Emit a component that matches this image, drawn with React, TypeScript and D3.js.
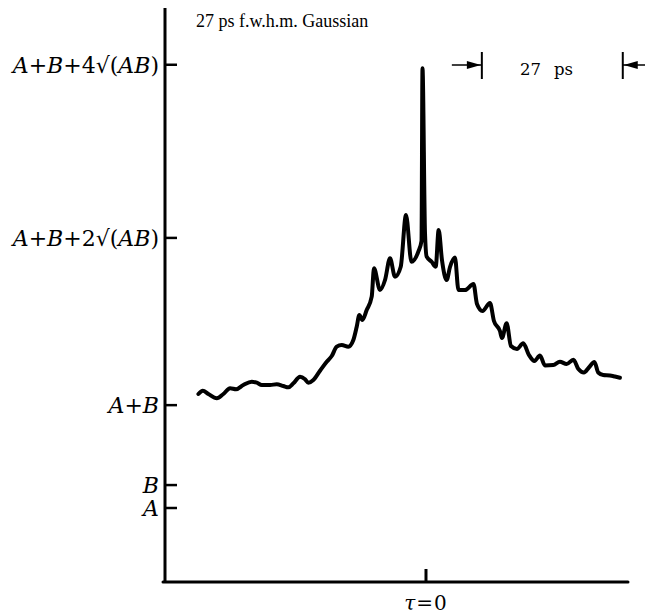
import React from "react";
import * as d3 from "d3";

// Delay tau in picoseconds
const TAU_PS: number[] = [
  -43.6, -42.76, -41.69, -40.08, -38.82, -37.53, -36.38, -34.99, -33.38, -32.42,
  -31.46, -29.87, -28.59, -27.33, -26.37, -25.41, -24.13, -23.17, -22.54, -21.58,
  -20.3, -19.02, -18.06, -17.1, -16.14, -14.88, -13.92, -13.27, -12.77, -12.2,
  -11.36, -10.4, -9.96, -8.81, -7.85, -6.89, -5.94, -4.84, -3.83, -2.78,
  -1.47, -0.86, -0.67, -0.19, 0.13, 1.09, 1.86, 2.43, 3.06, 3.96,
  4.6, 5.55, 6.22, 7.47, 9.1, 9.77, 10.82, 12.26, 13.02, 14.17,
  14.55, 15.45, 16.28, 17.43, 18.63, 19.72, 20.78, 21.83, 22.79, 24.38,
  25.66, 26.94, 28.24, 29.2, 30.26, 31.21, 32.27, 32.99, 33.95, 35.23,
  36.19, 37.15,
];

// Correlation signal (arbitrary units, A = 1)
const SIGNAL: number[] = [
  2.541, 2.585, 2.541, 2.482, 2.541, 2.618, 2.604, 2.662, 2.707, 2.693,
  2.662, 2.662, 2.672, 2.649, 2.631, 2.685, 2.774, 2.739, 2.693, 2.73,
  2.855, 2.977, 3.054, 3.18, 3.203, 3.18, 3.27, 3.45, 3.608, 3.541,
  3.676, 3.855, 4.239, 3.946, 4.081, 4.374, 4.126, 4.261, 4.959, 4.328,
  4.464, 4.608, 6.942, 4.716, 4.396, 4.328, 4.261, 4.757, 4.351, 4.081,
  4.257, 4.385, 3.946, 3.946, 4.027, 3.757, 3.662, 3.77, 3.527, 3.392,
  3.297, 3.496, 3.189, 3.149, 3.226, 3.068, 2.986, 3.061, 2.926, 2.932,
  2.977, 2.946, 3.004, 2.878, 2.831, 2.899, 2.973, 2.831, 2.797, 2.791,
  2.777, 2.761,
];

const Y_TICK_LABELS: string[] = ["A", "B", "A+B", "A+B+2√(AB)", "A+B+4√(AB)"];
const Y_TICK_VALUES: number[] = [1.0, 1.31, 2.39, 4.65, 6.99];

const X_TICK_VALUES: number[] = [0];
const X_TICK_LABELS: string[] = ["τ=0"];

const TITLE = "27 ps f.w.h.m. Gaussian";
const FWHM_PS = 27;
const FWHM_START_PS = 10.7;

const W = 645;
const H = 614;

function LabelText({ text, x, y, size }: { text: string; x: number; y: number; size: number }) {
  const parts = Array.from(text);
  return (
    <text
      x={x}
      y={y}
      textAnchor="end"
      fontFamily="'DejaVu Serif', serif"
      fontSize={size}
      fill="#000"
    >
      {parts.map((c, i) => (
        <tspan key={i} fontStyle={/[A-Za-z]/.test(c) ? "italic" : "normal"}>
          {c}
        </tspan>
      ))}
    </text>
  );
}

export default function App() {
  const x = d3.scaleLinear().domain([-50, 38.7]).range([165, 628]);
  const y = d3.scaleLinear().domain([0, 7.757]).range([582, 8]);

  const data = TAU_PS.map((t, i) => [t, SIGNAL[i]] as [number, number]);
  const line = d3
    .line<[number, number]>()
    .x((d) => x(d[0]))
    .y((d) => y(d[1]))
    .curve(d3.curveMonotoneX);

  const barL = x(FWHM_START_PS);
  const barR = x(FWHM_START_PS + FWHM_PS);
  const arrowY = 65;

  return (
    <svg
      width={W}
      height={H}
      style={{ position: "absolute", left: 0, top: 0, background: "#fff" }}
    >
      <rect x={0} y={0} width={W} height={H} fill="#fff" />
      {/* axes */}
      <line x1={x(-50)} y1={y(7.757)} x2={x(-50)} y2={583} stroke="#000" strokeWidth={3} />
      <line x1={163} y1={y(0)} x2={x(38.7)} y2={y(0)} stroke="#000" strokeWidth={3} strokeLinecap="round" />

      {/* y ticks */}
      {Y_TICK_VALUES.map((v, i) => (
        <g key={i}>
          <line x1={x(-50)} x2={x(-50) + 12} y1={y(v)} y2={y(v)} stroke="#000" strokeWidth={2.5} />
          <LabelText text={Y_TICK_LABELS[i]} x={159} y={y(v) + 8} size={22} />
        </g>
      ))}

      {/* x ticks */}
      {X_TICK_VALUES.map((v, i) => (
        <g key={i}>
          <line x1={x(v)} x2={x(v)} y1={y(0)} y2={y(0) - 13} stroke="#000" strokeWidth={3} />
          <text
            x={x(v)}
            y={610}
            textAnchor="middle"
            fontFamily="'DejaVu Serif', serif"
            fontSize={20}
            letterSpacing={1}
          >
            <tspan fontStyle="italic">{X_TICK_LABELS[i][0]}</tspan>
            <tspan>{X_TICK_LABELS[i].slice(1)}</tspan>
          </text>
        </g>
      ))}

      {/* curve */}
      <path
        d={line(data) || ""}
        fill="none"
        stroke="#000"
        strokeWidth={4}
        strokeLinejoin="round"
        strokeLinecap="round"
      />

      {/* title */}
      <text x={196} y={27} fontFamily="'Liberation Serif', serif" fontSize={18} fill="#000">
        {TITLE}
      </text>

      {/* FWHM marker */}
      <line x1={barL} x2={barL} y1={52} y2={79} stroke="#000" strokeWidth={2} />
      <line x1={barR} x2={barR} y1={52} y2={79} stroke="#000" strokeWidth={2} />
      <line x1={barL - 30} x2={barL} y1={arrowY} y2={arrowY} stroke="#000" strokeWidth={1.5} />
      <path
        d={`M${barL - 15},${arrowY - 4} L${barL - 1},${arrowY} L${barL - 15},${arrowY + 4} Z`}
        fill="#000"
      />
      <line x1={barR} x2={W} y1={arrowY} y2={arrowY} stroke="#000" strokeWidth={1.5} />
      <path
        d={`M${barR + 15},${arrowY - 4} L${barR + 1},${arrowY} L${barR + 15},${arrowY + 4} Z`}
        fill="#000"
      />
      <text x={520} y={75} fontFamily="'DejaVu Serif', serif" fontSize={16.5} fill="#000">
        <tspan>{String(FWHM_PS)}</tspan>
        <tspan dx={13}>ps</tspan>
      </text>
    </svg>
  );
}
